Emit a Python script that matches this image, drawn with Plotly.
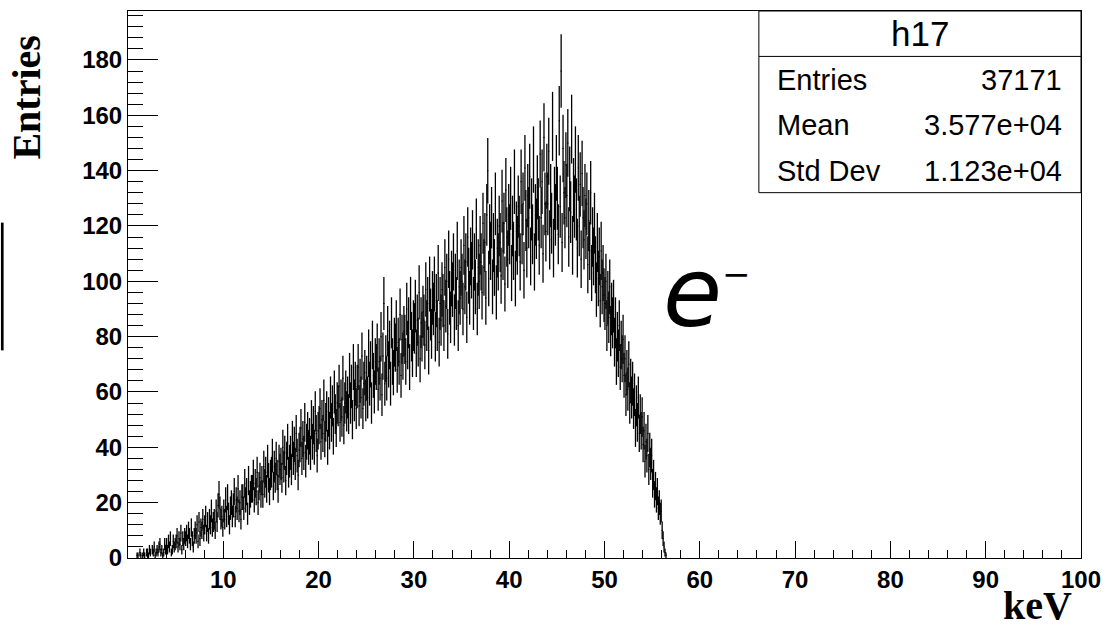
import math
import plotly.graph_objects as go

# Histogram h17: 1000 bins of 0.1 keV over 0-100 keV (only the first 57 keV are filled)
bin_width = 0.1
counts = [
    0, 0, 0, 0, 0, 0, 0, 0, 0, 1,
    1, 0, 2, 1, 0, 1, 2, 1, 0, 2,
    2, 1, 3, 2, 0, 3, 2, 4, 1, 2,
    3, 2, 4, 5, 2, 3, 1, 2, 5, 3,
    5, 3, 6, 4, 7, 2, 3, 6, 4, 5,
    6, 8, 4, 7, 5, 9, 3, 7, 5, 8,
    7, 9, 6, 10, 8, 5, 11, 7, 4, 8,
    10, 8, 12, 6, 13, 7, 11, 10, 14, 9,
    12, 15, 9, 13, 8, 14, 12, 17, 11, 13,
    14, 10, 17, 13, 19, 23, 18, 14, 15, 11,
    17, 14, 21, 15, 22, 16, 12, 18, 20, 15,
    19, 24, 15, 21, 18, 25, 17, 20, 14, 22,
    22, 18, 27, 21, 24, 16, 28, 20, 23, 25,
    25, 30, 21, 27, 24, 31, 20, 26, 29, 23,
    28, 23, 33, 27, 31, 25, 35, 29, 24, 30,
    31, 37, 26, 33, 29, 36, 30, 25, 35, 32,
    34, 29, 40, 33, 38, 28, 36, 42, 31, 35,
    38, 32, 43, 36, 41, 34, 45, 37, 30, 39,
    41, 47, 36, 43, 38, 49, 35, 42, 46, 40,
    44, 38, 50, 42, 48, 40, 53, 45, 37, 46,
    48, 54, 42, 50, 45, 57, 43, 49, 53, 40,
    51, 46, 58, 49, 55, 44, 60, 52, 47, 56,
    55, 62, 49, 57, 51, 65, 48, 56, 60, 53,
    58, 52, 66, 56, 62, 50, 69, 57, 63, 54,
    62, 69, 55, 64, 58, 73, 54, 63, 67, 57,
    65, 58, 74, 63, 70, 56, 77, 66, 60, 71,
    69, 76, 61, 71, 65, 80, 59, 73, 92, 63,
    72, 65, 82, 70, 77, 63, 85, 71, 67, 78,
    76, 84, 68, 78, 71, 88, 66, 79, 73, 82,
    79, 71, 90, 77, 85, 69, 92, 80, 74, 84,
    83, 91, 74, 86, 78, 96, 72, 85, 80, 89,
    86, 77, 97, 84, 92, 75, 99, 88, 81, 94,
    90, 99, 80, 93, 84, 103, 78, 92, 86, 97,
    93, 84, 105, 91, 100, 81, 108, 94, 87, 101,
    97, 107, 86, 100, 92, 111, 84, 98, 94, 105,
    100, 90, 113, 98, 107, 87, 116, 102, 94, 109,
    104, 115, 92, 107, 98, 119, 90, 105, 100, 113,
    107, 96, 121, 105, 114, 94, 124, 140, 101, 117,
    111, 123, 98, 114, 105, 128, 96, 112, 107, 120,
    114, 102, 129, 111, 121, 99, 133, 116, 108, 124,
    117, 130, 103, 120, 111, 136, 101, 118, 113, 127,
    120, 107, 136, 117, 128, 104, 141, 122, 112, 131,
    123, 138, 109, 126, 117, 144, 107, 124, 119, 134,
    126, 113, 146, 123, 136, 110, 152, 128, 118, 138,
    128, 147, 115, 131, 121, 156, 112, 130, 124, 141,
    130, 117, 158, 127, 176, 114, 148, 132, 123, 142,
    131, 150, 116, 137, 125, 155, 113, 133, 127, 144,
    126, 112, 141, 120, 135, 108, 139, 123, 115, 131,
    119, 128, 106, 122, 111, 132, 103, 116, 109, 121,
    106, 97, 114, 101, 109, 93, 111, 98, 103, 95,
    92, 100, 84, 94, 87, 98, 82, 90, 85, 91,
    78, 85, 71, 80, 74, 84, 69, 77, 72, 79,
    66, 72, 59, 67, 61, 70, 56, 64, 58, 63,
    54, 59, 47, 55, 49, 58, 45, 52, 46, 51,
    41, 46, 35, 42, 37, 45, 32, 39, 34, 37,
    27, 30, 23, 26, 21, 24, 18, 20, 16, 17,
    10, 7, 4, 2, 1, 0, 0, 0, 0, 0,
]

x_tick_values = [10, 20, 30, 40, 50, 60, 70, 80, 90, 100]
y_tick_values = [0, 20, 40, 60, 80, 100, 120, 140, 160, 180]

stats_title = "h17"
stats_rows = [("Entries", "37171"), ("Mean", "3.577e+04"), ("Std Dev", "1.123e+04")]

# Only non-empty bins get an error bar
xs, ys, errs = [], [], []
for i, n in enumerate(counts):
    if n > 0:
        xs.append((i + 0.5) * bin_width)
        ys.append(n)
        errs.append(math.sqrt(n))

W, H = 1111, 631
ML, MR, MT, MB = 128, 23, 10, 73
PW, PH = W - ML - MR, H - MT - MB


def px(x):
    return (x - ML) / PW


def py(y):
    return (H - MB - y) / PH


fig = go.Figure()
fig.add_trace(go.Scatter(
    x=xs, y=ys, mode="markers",
    marker=dict(size=1, color="black"),
    error_y=dict(type="data", array=errs, symmetric=True, width=0,
                 thickness=1.3, color="black"),
    error_x=dict(type="constant", value=bin_width / 2, width=0,
                 thickness=1, color="black"),
    showlegend=False, hoverinfo="x+y",
))

tick_font = dict(family="Liberation Sans", size=24, color="black", weight="bold")
fig.update_xaxes(
    range=[0, 100], showgrid=False, zeroline=False,
    showline=True, linecolor="black", linewidth=1, mirror=True,
    tickmode="array", tickvals=x_tick_values,
    ticks="inside", ticklen=17, tickwidth=1, tickcolor="black",
    tickfont=tick_font,
    minor=dict(tickmode="linear", tick0=0, dtick=2, ticks="inside",
               ticklen=8, tickwidth=1, tickcolor="black", showgrid=False),
)
fig.update_yaxes(
    range=[0, 197.7], showgrid=False, zeroline=False,
    showline=True, linecolor="black", linewidth=1, mirror=True,
    tickmode="array", tickvals=y_tick_values,
    ticks="inside", ticklen=30, tickwidth=1, tickcolor="black",
    tickfont=tick_font,
    minor=dict(tickmode="linear", tick0=0, dtick=4, ticks="inside",
               ticklen=15, tickwidth=1, tickcolor="black", showgrid=False),
)

shapes = []
# Statistics box with its title separator
box_left, box_right, box_top, box_bottom, box_sep = 763.5, W - MR, MT, 192, 55.5
shapes.append(dict(type="rect", xref="paper", yref="paper",
                   x0=px(box_left), x1=px(box_right), y0=py(box_bottom), y1=py(box_top),
                   line=dict(color="black", width=1), fillcolor="white", layer="above"))
shapes.append(dict(type="line", xref="paper", yref="paper",
                   x0=px(box_left), x1=px(box_right), y0=py(box_sep), y1=py(box_sep),
                   line=dict(color="black", width=1), layer="above"))
# Black bar at the left edge of the canvas
shapes.append(dict(type="rect", xref="paper", yref="paper",
                   x0=px(0), x1=px(2.7), y0=py(350), y1=py(222),
                   line=dict(width=0), fillcolor="black", layer="above"))

stat_font = dict(family="Liberation Sans", size=29, color="black")
annotations = [
    dict(text=stats_title, x=px((box_left + box_right) / 2), y=py(33),
         xanchor="center", yanchor="middle",
         font=dict(family="Liberation Sans", size=35, color="black")),
]
row_y = [79, 124.5, 170]
for (label, value), yy in zip(stats_rows, row_y):
    annotations.append(dict(text=label, x=px(780), y=py(yy), xanchor="left",
                            yanchor="middle", font=stat_font))
    annotations.append(dict(text=value, x=px(1071), y=py(yy), xanchor="right",
                            yanchor="middle", font=stat_font))

title_font = dict(family="Liberation Serif", size=40, color="black", weight="bold")
annotations.append(dict(text="Entries", x=px(26), y=py(97), textangle=-90,
                        xanchor="center", yanchor="middle", font=title_font))
annotations.append(dict(text="keV", x=px(1081), y=py(606), xanchor="right",
                        yanchor="middle", font=title_font))
annotations.append(dict(
    text="<i>e</i><sup><span style=\"font-size:34px\">\u2212</span></sup>",
    x=px(711), y=py(293), xanchor="center", yanchor="middle",
    font=dict(family="DejaVu Sans", size=96, color="black")))

for a in annotations:
    a.update(xref="paper", yref="paper", showarrow=False)

fig.update_layout(
    width=W, height=H,
    margin=dict(l=ML, r=MR, t=MT, b=MB),
    paper_bgcolor="white", plot_bgcolor="white",
    shapes=shapes, annotations=annotations,
)

fig.write_html("out.html")
